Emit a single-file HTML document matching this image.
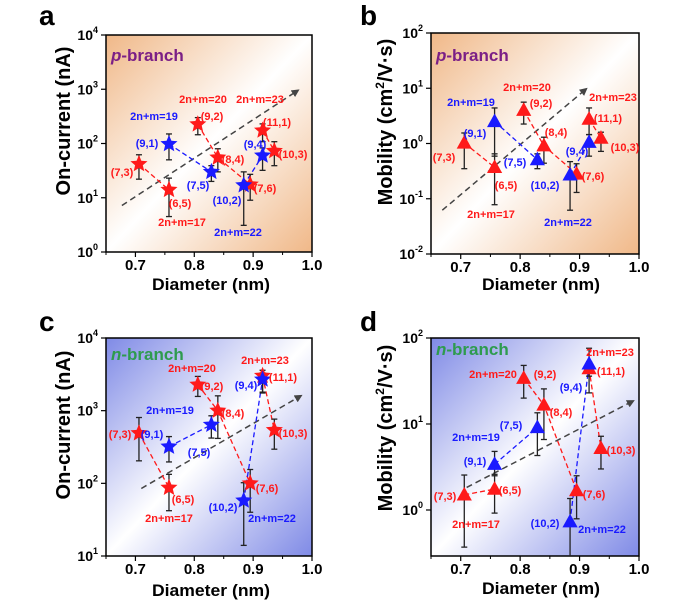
<!DOCTYPE html>
<html><head><meta charset="utf-8"><style>
html,body{margin:0;padding:0;background:#fff;}
svg{display:block;font-family:"Liberation Sans",Arial,sans-serif;font-weight:bold;}
</style></head><body>
<svg id="fig" width="676" height="612" viewBox="0 0 676 612" xmlns="http://www.w3.org/2000/svg">
<defs>
<linearGradient id="gOr" x1="0" y1="0" x2="1" y2="1">
<stop offset="0" stop-color="#f0b888"/><stop offset="0.5" stop-color="#ffffff"/><stop offset="1" stop-color="#f0b888"/></linearGradient>
<linearGradient id="gBl" x1="0" y1="0" x2="1" y2="1">
<stop offset="0" stop-color="#7f8ae6"/><stop offset="0.5" stop-color="#ffffff"/><stop offset="1" stop-color="#7f8ae6"/></linearGradient>
<marker id="arr" markerWidth="8" markerHeight="8" refX="6" refY="4" orient="auto" markerUnits="userSpaceOnUse"><path d="M0,0 L8,4 L0,8 z" fill="#444"/></marker>
</defs>
</svg>
<script>
// ---- data ----
const chirA = ["(7,3)","(6,5)","(9,2)","(8,4)","(7,6)","(11,1)","(10,3)","(9,1)","(7,5)","(10,2)","(9,4)"];
const diam  = [0.706,0.757,0.806,0.840,0.895,0.916,0.936,0.757,0.829,0.884,0.916];
const isBlue = [0,0,0,0,0,0,0,1,1,1,1];
const valA = [42,14,226,55,17.5,174,73,98,30,17,60];
const loA  = [22,4.5,145,30,9,108,39,50,20,3.1,32];
const hiA  = [62,23,300,80,27,230,108,150,39,30,83];
const valB = [1.02,0.37,4.0,0.91,0.28,2.76,1.25,2.5,0.51,0.27,1.05];
const loB  = [0.35,0.078,2.25,0.44,0.13,1.45,0.72,0.59,0.35,0.062,0.59];
const hiB  = [1.55,0.65,5.6,1.3,0.43,4.4,1.6,4.4,0.65,0.47,1.45];
const valC = [490,87,2280,1000,100,3020,540,320,640,58,2690];
const loC  = [204,42,1570,415,40,1750,295,197,420,14,1800];
const hiC  = [805,133,2960,1600,155,3600,765,440,850,102,3300];
const valD = [1.5,1.75,34,16.6,1.68,44,5.2,3.4,9.1,0.73,50];
const loD  = [0.37,0.92,20,6.6,0.79,23,3,2.5,4.3,0.2,36];
const hiD  = [2.55,2.6,48,25.6,2.5,53,7.2,4.8,13.5,1.36,76];
const groups = [[0,1],[2,3,4],[5,6],[7,8],[9,10]];
const arrowA = [[0.677,7.2],[0.976,950]];
const arrowB = [[0.669,0.062],[0.911,9.7]];
const arrowC = [[0.71,85],[0.981,1600]];
const arrowD = [[0.71,1.83],[0.99,18.5]];
const xTicks = [0.7,0.8,0.9,1.0];
const xTickLabels = ["0.7","0.8","0.9","1.0"];

const NS="http://www.w3.org/2000/svg";
const svg=document.getElementById('fig');
function mk(tag,attrs,parent){const e=document.createElementNS(NS,tag);for(const k in attrs)e.setAttribute(k,attrs[k]);(parent||svg).appendChild(e);return e;}
const RED="#ff1a1a",BLUE="#1a1aff";

function star(cx,cy,r){let p=[];for(let i=0;i<10;i++){const a=-Math.PI/2+i*Math.PI/5;const rr=i%2?r*0.45:r;p.push((cx+rr*Math.cos(a)).toFixed(1)+","+(cy+rr*Math.sin(a)).toFixed(1));}return p.join(" ");}
function tri(cx,cy,r){return `${cx},${cy-r} ${cx-r*0.95},${cy+r*0.7} ${cx+r*0.95},${cy+r*0.7}`;}

function panel(o){
  const g=mk('g',{});
  
  
  const L=o.L,R=o.R,T=o.T,B=o.B;
  const xs=v=>L+(v-0.65)/(1.0-0.65)*(R-L);
  const ys=v=>B-(Math.log10(v)-o.ylog0)/(o.ylog1-o.ylog0)*(B-T);
  const bg=mk('rect',{x:L,y:T,width:R-L,height:B-T,fill:o.grad},g);
  
  const lt=mk('text',{x:o.letter[0],y:o.letter[1],'font-size':28,fill:'#000'},g);lt.textContent=o.id;
  
  for(let i=0;i<xTicks.length;i++){const x=xs(xTicks[i]);
    mk('line',{x1:x,x2:x,y1:B,y2:B+5,stroke:'#000','stroke-width':1.2},g);
    const t=mk('text',{x:x,y:B+18,'font-size':15,'text-anchor':'middle'},g);t.textContent=xTickLabels[i];
    }
  for(let v=0.65;v<1.0;v+=0.1){const x=xs(v+0.0);mk('line',{x1:x,x2:x,y1:B,y2:B+3,stroke:'#000','stroke-width':1},g);}
  for(let e=Math.ceil(o.ylog0);e<=o.ylog1;e++){const y=ys(Math.pow(10,e));
    mk('line',{x1:L-5,x2:L,y1:y,y2:y,stroke:'#000','stroke-width':1.2},g);
    const t=mk('text',{x:L-8,y:y+5,'font-size':14,'text-anchor':'end'},g);
    
    const ex=String(e);
    t.innerHTML='10<tspan font-size="9" dy="-7">'+ex+'</tspan>';}
  const fr=mk('rect',{x:L,y:T,width:R-L,height:B-T,fill:'none',stroke:'#000','stroke-width':1.5},g);
  
  const xt=mk('text',{x:o.xt[0],y:o.xt[1],'font-size':17,'text-anchor':'middle',textLength:118,lengthAdjust:'spacingAndGlyphs'},g);
  xt.textContent='Diameter (nm)';
  const yt=mk('text',{x:0,y:0,'font-size':20,'text-anchor':'middle',transform:`translate(${o.yt[0]},${o.yt[1]}) rotate(-90)`},g);
  
  if(o.mob){yt.innerHTML='Mobility (cm<tspan font-size="12" dy="-8">2</tspan><tspan dy="8">/V·s)</tspan>';}
  else yt.textContent='On-current (nA)';
  const ar=mk('line',{x1:xs(o.arrow[0][0]),y1:ys(o.arrow[0][1]),x2:xs(o.arrow[1][0]),y2:ys(o.arrow[1][1]),stroke:'#444','stroke-width':1.5,'stroke-dasharray':'6,4','marker-end':'url(#arr)'},g);
  
  groups.forEach(gr=>{const c=isBlue[gr[0]]?BLUE:RED;
    const pts=gr.map(i=>xs(diam[i])+','+ys(o.val[i])).join(' ');
    const pl=mk('polyline',{points:pts,fill:'none',stroke:c,'stroke-width':1.3,'stroke-dasharray':'5,3'},g);
    });
  for(let i=0;i<diam.length;i++){const x=xs(diam[i]);const y1=ys(Math.max(o.lo[i],Math.pow(10,o.ylog0))),y2=ys(o.hi[i]);
    const eb=mk('g',{stroke:'#222','stroke-width':1.3},g);
    
    mk('line',{x1:x,x2:x,y1:y1,y2:y2},eb);
    mk('line',{x1:x-3,x2:x+3,y1:y2,y2:y2},eb);
    if(o.lo[i]>=Math.pow(10,o.ylog0))mk('line',{x1:x-3,x2:x+3,y1:y1,y2:y1},eb);}
  for(let i=0;i<diam.length;i++){const x=xs(diam[i]),y=ys(o.val[i]);const c=isBlue[i]?BLUE:RED;
    const m=o.mob?mk('polygon',{points:tri(x,y,8),fill:c},g):mk('polygon',{points:star(x,y,9),fill:c},g);
    }
  const bl=mk('text',{x:o.br[0],y:o.br[1],'font-size':17,fill:o.brColor},g);
  bl.innerHTML='<tspan font-style="italic">'+o.brLetter+'</tspan>-branch';
  
  o.labels.forEach(lb=>{const t=mk('text',{x:lb[1],y:lb[2]+4,'font-size':11,'text-anchor':'middle',fill:lb[3]?BLUE:RED},g);
    t.textContent=lb[0];});
}
panel({id:'a',L:106,R:312,T:35,B:252,ylog0:0,ylog1:4,val:valA,lo:loA,hi:hiA,arrow:arrowA,grad:'url(#gOr)',mob:false,
  letter:[39,25],xt:[211,290],yt:[70,121],br:[111,61],brColor:'#7b1f86',brLetter:'p',
  labels:[["2n+m=20",203,99,0],["2n+m=23",260,99,0],["2n+m=19",154,116,1],["(9,2)",212,116,0],["(11,1)",277,122,0],
  ["(9,1)",147,143,1],["(9,4)",255,144,1],["(8,4)",233,159,0],["(10,3)",293,154,0],["(7,3)",122,172,0],["(7,5)",198,185,1],
  ["(7,6)",265,188,0],["(10,2)",227,200,1],["(6,5)",180,203,0],["2n+m=17",182,222,0],["2n+m=22",238,232,1]]});
panel({id:'b',L:431,R:639,T:33,B:254,ylog0:-2,ylog1:2,val:valB,lo:loB,hi:hiB,arrow:arrowB,grad:'url(#gOr)',mob:true,
  letter:[360,25],xt:[541,290],yt:[392,122],br:[436,61],brColor:'#7b1f86',brLetter:'p',
  labels:[["2n+m=20",527,87,0],["2n+m=23",613,97,0],["2n+m=19",471,102,1],["(9,2)",541,103,0],["(11,1)",608,118,0],
  ["(9,1)",475,133,1],["(8,4)",556,132,0],["(9,4)",577,151,1],["(10,3)",625,147,0],["(7,3)",444,157,0],["(7,5)",515,162,1],
  ["(7,6)",593,176,0],["(10,2)",545,185,1],["(6,5)",506,185,0],["2n+m=17",491,214,0],["2n+m=22",568,222,1]]});
panel({id:'c',L:106,R:312,T:338,B:556,ylog0:1,ylog1:4,val:valC,lo:loC,hi:hiC,arrow:arrowC,grad:'url(#gBl)',mob:false,
  letter:[39,331],xt:[211,596],yt:[70,425],br:[111,360],brColor:'#2e9b4e',brLetter:'n',
  labels:[["2n+m=23",265,360,0],["2n+m=20",192,368,0],["(11,1)",283,377,0],["(9,2)",212,386,0],["(9,4)",246,385,1],
  ["2n+m=19",170,410,1],["(8,4)",233,413,0],["(7,3)",120,434,0],["(9,1)",152,434,1],["(10,3)",293,433,0],["(7,5)",199,452,1],
  ["(7,6)",267,488,0],["(6,5)",183,499,0],["(10,2)",223,507,1],["2n+m=17",169,518,0],["2n+m=22",272,518,1]]});
panel({id:'d',L:431,R:639,T:338,B:556,ylog0:-0.535,ylog1:2,val:valD,lo:loD,hi:hiD,arrow:arrowD,grad:'url(#gBl)',mob:true,
  letter:[360,331],xt:[541,594],yt:[392,428],br:[436,355],brColor:'#2e9b4e',brLetter:'n',
  labels:[["2n+m=23",610,352,0],["2n+m=20",493,374,0],["(9,2)",545,374,0],["(11,1)",611,371,0],["(9,4)",571,387,1],
  ["(8,4)",561,412,0],["(7,5)",511,425,1],["2n+m=19",476,437,1],["(10,3)",621,450,0],["(9,1)",475,461,1],["(7,3)",445,496,0],
  ["(6,5)",510,490,0],["(7,6)",594,494,0],["2n+m=17",476,524,0],["(10,2)",545,523,1],["2n+m=22",602,529,1]]});
</script>
</body></html>
